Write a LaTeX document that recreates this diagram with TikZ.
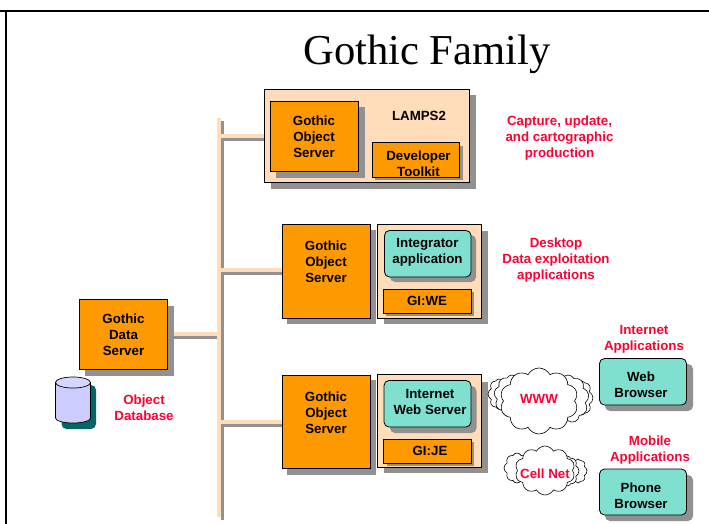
\documentclass[tikz,border=0pt]{standalone}
\usepackage{fontspec}
\setmainfont{Liberation Serif}
\setsansfont{Liberation Sans}
\usetikzlibrary{shapes.symbols,shapes.geometric}
\definecolor{orangebox}{HTML}{FF9900}
\definecolor{peach}{HTML}{FFDDBB}
\definecolor{tealbox}{HTML}{80E0D0}
\definecolor{shadowgray}{HTML}{919191}
\definecolor{redlab}{HTML}{FF0033}
\definecolor{cyl}{HTML}{CCCCFF}
\definecolor{cylshade}{HTML}{006666}
\tikzset{
  x=1pt,y=-1pt,
  lab/.style={font=\sffamily\bfseries\fontsize{13.3}{16}\selectfont,align=center,text=black,inner sep=0pt},
  redl/.style={font=\sffamily\bfseries\fontsize{13.3}{16}\selectfont,align=center,text=redlab,inner sep=0pt},
  box/.style={draw=black,line width=0.8pt,inner sep=0pt,outer sep=0pt,anchor=north west},
  orangeb/.style={box,fill=orangebox},
  peachb/.style={box,fill=peach},
  tealb/.style={box,fill=tealbox,rounded corners=5pt},
  shad/.style={fill=shadowgray},
  cl/.style={cloud,draw=black,fill=white,line width=0.6pt,inner sep=0pt,cloud ignores aspect,cloud puff arc=125},
  busf/.style={line width=4pt,draw=peach},
  buss/.style={line width=3.4pt,draw=shadowgray}
}
\newcommand{\bx}[6]{%
  \node[#1,minimum width=#5-#3,minimum height=#6-#4] (#2) at (#3,#4) {};}
\begin{document}
\begin{tikzpicture}
\useasboundingbox (0,0) rectangle (709,524);
\fill[white] (0,0) rectangle (709,524);
% frame
\draw[line width=2pt] (0,11) -- (709,11);
\draw[line width=2pt] (6,11) -- (6,524);
% title
\node[font=\fontsize{42.6}{46}\selectfont,inner sep=0pt] (title) at (427,54) {Gothic Family};
% bus anchors
\coordinate (bf1) at (219,118); \coordinate (bf2) at (219,517);
\coordinate (bs1) at (222.5,121); \coordinate (bs2) at (222.5,520);
% bus shadow
\draw[buss] (bs1) -- (bs2);
\draw[buss] (174,337.5) -- (bs2 |- 0,337.5);
\draw[buss] (bs1 |- 0,139.5) -- (270,139.5);
\draw[buss] (bs1 |- 0,273.5) -- (285,273.5);
\draw[buss] (bs1 |- 0,425.5) -- (285,425.5);
% bus light
\draw[busf] (bf1) -- (bf2);
\draw[busf] (174,334) -- (bf1 |- 0,334);
\draw[busf] (bf1 |- 0,136) -- (270,136);
\draw[busf] (bf1 |- 0,270) -- (285,270);
\draw[busf] (bf1 |- 0,422) -- (285,422);
% LAMPS
\fill[shad] (270.5,95.5) rectangle (476,189);
\bx{peachb}{lamps}{264.5}{89.5}{469.5}{182}
\fill[shad] (276,107) rectangle (365,177.5);
\bx{orangeb}{gos1}{270}{101}{358.5}{171.5}
\node[lab] at (314,137) {Gothic\\Object\\Server};
\node[lab] at (419,116) {LAMPS2};
\fill[shad] (375,146) rectangle (463,180);
\bx{orangeb}{dev}{372}{142.5}{459.5}{177}
\node[lab] at (418.5,163.5) {Developer\\Toolkit};
\node[redl] at (559.5,138) {Capture, update,\\and cartographic\\production};
% middle
\fill[shad] (287,229.5) rectangle (375.5,323.5);
\bx{orangeb}{gos2}{282}{224.5}{370}{318}
\node[lab] at (326,262) {Gothic\\Object\\Server};
\fill[shad] (384,231) rectangle (488,324);
\bx{peachb}{c2}{377.5}{224.5}{481}{318}
\fill[shad,rounded corners=5pt] (390,235) rectangle (476,282);
\bx{tealb}{integ}{384.5}{230.5}{471}{277}
\node[lab] at (427.5,252.5) {Integrator\\application};
\fill[shad] (386,292) rectangle (474,316);
\bx{orangeb}{giwe}{383.5}{289}{471}{313}
\node[lab] at (427,301) {GI:WE};
\node[redl] at (556,260.5) {Desktop\\Data exploitation\\applications};
% bottom
\fill[shad] (287,380) rectangle (375.5,474.5);
\bx{orangeb}{gos3}{282}{375}{370}{468.5}
\node[lab] at (326,412.5) {Gothic\\Object\\Server};
\fill[shad] (384,381.5) rectangle (488,473);
\bx{peachb}{c3}{377.5}{374.5}{481}{467.5}
\fill[shad,rounded corners=5pt] (390,386) rectangle (476.5,433);
\bx{tealb}{iws}{384}{380.5}{471}{427}
\node[lab] at (430,402) {Internet\\Web Server};
\fill[shad] (386.5,442) rectangle (474,466);
\bx{orangeb}{gije}{383.5}{439.5}{471}{463}
\node[lab] at (430,451) {GI:JE};
% data server
\fill[shad] (85,305.5) rectangle (174,376);
\bx{orangeb}{gds}{79.5}{299.5}{167.5}{369.5}
\node[lab] at (123.5,334.5) {Gothic\\Data\\Server};
% database
\fill[cylshade,rounded corners=5pt] (61.5,385) rectangle (96,429);
\path[draw=black,fill=cyl,line width=0.7pt] (55.5,382.5) -- (55.5,418) arc[start angle=180,end angle=360,x radius=17.5,y radius=-5] -- (90.5,382.5) -- cycle;
\path[draw=black,fill=cyl!80!white,line width=0.7pt] (73,382.5) ellipse[x radius=17.5,y radius=5.5];
\node[redl] (odb) at (144,407.5) {Object\\Database};
% clouds
\node[cl,cloud puffs=8,minimum width=22,minimum height=30] (www5) at (499,394) {};
\node[cl,cloud puffs=8,minimum width=22,minimum height=34] (www4) at (582,398) {};
\node[cl,cloud puffs=9,minimum width=42,minimum height=48] (www3) at (568,399) {};
\node[cl,cloud puffs=9,minimum width=36,minimum height=42] (www2) at (512,396) {};
\node[cl,cloud puffs=10,minimum width=78,minimum height=66] (www1) at (539,401) {};
\node[redl] at (539,398.5) {WWW};
\node[cl,cloud puffs=8,minimum width=18,minimum height=24] (cn4) at (578,471) {};
\node[cl,cloud puffs=8,minimum width=24,minimum height=30] (cn3) at (567,471) {};
\node[cl,cloud puffs=8,minimum width=26,minimum height=30] (cn2) at (517,468) {};
\node[cl,cloud puffs=10,minimum width=60,minimum height=49] (cn1) at (545,470.5) {};
\node[redl] at (545,473.5) {Cell Net};
% browsers
\fill[shad,rounded corners=5pt] (605,364) rectangle (693,411);
\bx{tealb}{web}{599.5}{358.5}{686.5}{405}
\node[lab] at (641,384.5) {Web\\Browser};
\fill[shad,rounded corners=5pt] (605,475) rectangle (693,521);
\bx{tealb}{phone}{599.5}{469}{686.5}{515}
\node[lab] at (641,495.5) {Phone\\Browser};
\node[redl] at (644,339.5) {Internet\\Applications};
\node[redl] at (650,450.5) {Mobile\\Applications};
\end{tikzpicture}
\end{document}
